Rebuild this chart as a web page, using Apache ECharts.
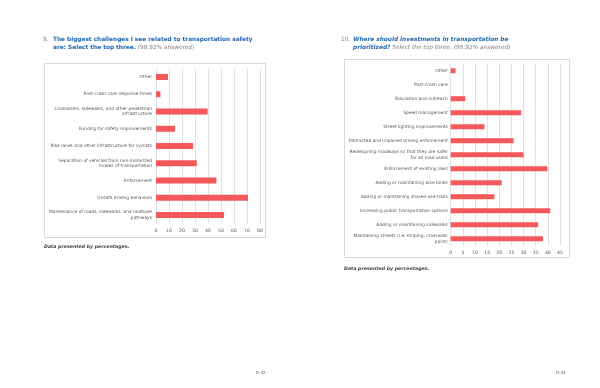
<!DOCTYPE html>
<html><head><meta charset="utf-8">
<script src="https://cdn.jsdelivr.net/npm/echarts@6/dist/echarts.min.js"></script>
<style>html,body{margin:0;padding:0;background:#fff}#c{width:600px;height:388px}</style>
</head><body><div id="c"></div>
<script>
// Left chart (Q9)
const safetyCategories = [
  'Other',
  'Post-crash care response times',
  'Crosswalks, sidewalks, and other pedestrian\ninfrastructure',
  'Funding for safety improvements',
  'Bike lanes and other infrastructure for cyclists',
  'Separation of vehicles from non-motorized\nmodes of transportation',
  'Enforcement',
  'Unsafe driving behaviors',
  'Maintenance of roads, sidewalks, and multiuse\npathways'
];
const safetyValues = [9.2, 3.4, 39.7, 14.6, 28.5, 31.4, 46.5, 70.7, 52.4];
const safetyTicks = {min: 0, max: 80, interval: 10};

// Right chart (Q10)
const investCategories = [
  'Other',
  'Post-crash care',
  'Education and outreach',
  'Speed management',
  'Street lighting improvements',
  'Distracted and impaired driving enforcement',
  'Redesigning roadways so that they are safer\nfor all road users',
  'Enforcement of existing laws',
  'Adding or maintaining bike lanes',
  'Adding or maintaining shared-use trails',
  'Increasing public transportation options',
  'Adding or maintaining sidewalks',
  'Maintaining streets (i.e. striping, crosswalk\npaint)'
];
const investValues = [2.0, 0, 6.0, 29.0, 13.9, 25.9, 30.0, 39.8, 21.0, 18.0, 41.0, 36.0, 38.0];
const investTicks = {min: 0, max: 45, interval: 5};

const FONT = '"DejaVu Sans", Verdana, sans-serif';
const BLUE = '#1f65b0';
const GRAY = '#7f7f7f';
const LABEL = '#595959';
const BAR = '#f4585a';

const chart = echarts.init(document.getElementById('c'), null, {renderer: 'canvas'});

function xAxisFor(t, gi) {
  return {
    type: 'value', gridIndex: gi, min: t.min, max: t.max, interval: t.interval,
    axisLine: {show: false}, axisTick: {show: false},
    splitLine: {show: true, lineStyle: {color: '#d9d9d9', width: 0.8}},
    axisLabel: {color: LABEL, fontSize: 4.6, fontFamily: FONT, margin: 5}
  };
}
function yAxisFor(cats, gi, margin) {
  return {
    type: 'category', gridIndex: gi, data: cats, inverse: true,
    axisLine: {show: false}, axisTick: {show: false},
    axisLabel: {color: LABEL, fontSize: 4.4, fontFamily: FONT, fontStyle: 'normal', fontWeight: 'normal', margin: margin, lineHeight: 5.4, align: 'right'}
  };
}

const TS = 5.8, LH = 8;
const richTitle = {
  b: {fontFamily: FONT, fontSize: TS, fontWeight: 'bold', fontStyle: 'normal', color: BLUE, lineHeight: LH},
  bi: {fontFamily: FONT, fontSize: TS, fontWeight: 'bold', fontStyle: 'italic', color: BLUE, lineHeight: LH},
  g: {fontFamily: FONT, fontSize: TS, fontWeight: 'normal', fontStyle: 'normal', color: GRAY, lineHeight: LH},
  gi: {fontFamily: FONT, fontSize: TS, fontWeight: 'normal', fontStyle: 'italic', color: GRAY, lineHeight: LH}
};
const titleTS = {fontFamily: FONT, fontSize: TS, fontWeight: 'normal', lineHeight: LH, rich: richTitle};
const noteTS = {fontFamily: FONT, fontSize: 4.7, fontWeight: 'bold', fontStyle: 'italic', color: '#404040', lineHeight: 6};
const pageTS = {fontFamily: FONT, fontSize: 4, fontWeight: 'normal', color: '#595959', lineHeight: 5};

chart.setOption({
  animation: false,
  title: [
    {text: '{g|9.}', left: 43, top: 35, padding: 0, textStyle: titleTS},
    {text: '{b|The biggest challenges I see related to transportation safety}\n{b|are: Select the top three.} {g|(98.92% answered)}',
     left: 53, top: 35, padding: 0, textStyle: titleTS},
    {text: '{g|10.}', left: 341, top: 35, padding: 0, textStyle: titleTS},
    {text: '{bi|Where should investments in transportation be}\n{bi|prioritized?} {gi|Select the top three. (98.92% answered)}',
     left: 353, top: 35, padding: 0, textStyle: titleTS},
    {text: 'Data presented by percentages.', left: 44, top: 243.5, padding: 0, textStyle: noteTS},
    {text: 'Data presented by percentages.', left: 344, top: 265.5, padding: 0, textStyle: noteTS},
    {text: 'D-42', left: 256, top: 370, padding: 0, textStyle: pageTS},
    {text: 'D-43', left: 556, top: 370, padding: 0, textStyle: pageTS}
  ],
  graphic: [
    {type: 'rect', shape: {x: 44.5, y: 63.5, width: 221, height: 174}, style: {fill: 'none', stroke: '#d9d9d9', lineWidth: 1}, silent: true},
    {type: 'rect', shape: {x: 344.5, y: 59.5, width: 225, height: 198}, style: {fill: 'none', stroke: '#d9d9d9', lineWidth: 1}, silent: true}
  ],
  grid: [
    {left: 156, right: 340, top: 68.4, bottom: 164.4, containLabel: false},
    {left: 450.7, right: 40, top: 63.7, bottom: 142.3, containLabel: false}
  ],
  xAxis: [xAxisFor(safetyTicks, 0), xAxisFor(investTicks, 1)],
  yAxis: [yAxisFor(safetyCategories, 0, 4), yAxisFor(investCategories, 1, 3)],
  series: [
    {type: 'bar', xAxisIndex: 0, yAxisIndex: 0, data: safetyValues, barWidth: 6, itemStyle: {color: BAR}},
    {type: 'bar', xAxisIndex: 1, yAxisIndex: 1, data: investValues, barWidth: 5, itemStyle: {color: BAR}}
  ]
});
</script></body></html>
